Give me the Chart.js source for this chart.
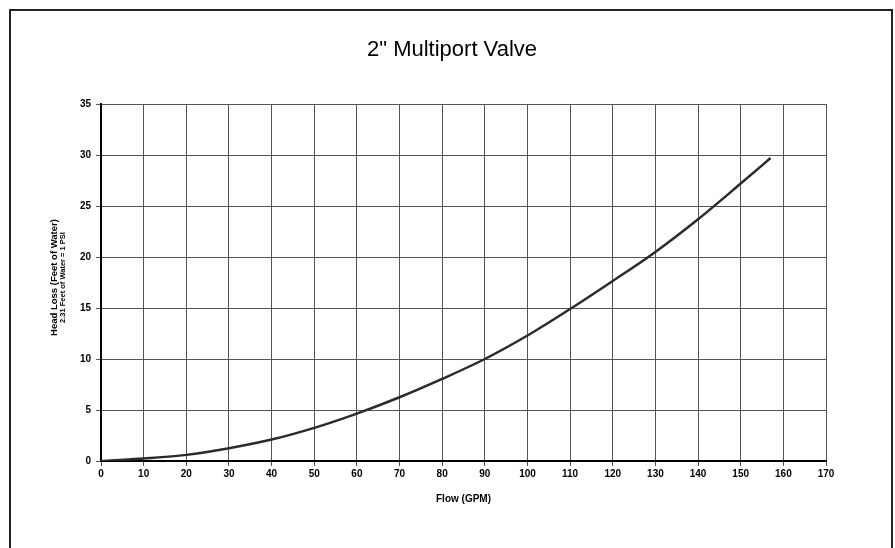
<!DOCTYPE html>
<html>
<head>
<meta charset="utf-8">
<script src="https://cdn.jsdelivr.net/npm/chart.js@4.4.1/dist/chart.umd.min.js"></script>
<style>
  html, body { margin: 0; padding: 0; background: #fff; overflow: hidden; }
  #wrap { width: 895px; height: 548px; position: relative; }
</style>
</head>
<body>
<div id="wrap"><canvas id="chart" width="895" height="548"></canvas></div>
<script>
// values
const flowGpm  = [0, 10, 20, 30, 40, 50, 60, 70, 80, 90, 100, 110, 120, 130, 140, 150, 157];
const headLoss = [0, 0.25, 0.6, 1.25, 2.1, 3.25, 4.65, 6.25, 8.05, 10.0, 12.3, 14.9, 17.65, 20.5, 23.7, 27.2, 29.7];

const xRange = [0, 170, 10];
const yRange = [0, 35, 5];

const titleText = '2" Multiport Valve';
const xTitle = 'Flow (GPM)';
const yTitle = ['Head Loss (Feet of Water)', '2.31 Feet of Water = 1 PSI'];

const FONT = '"Liberation Sans", Arial, sans-serif';

const points = flowGpm.map((f, i) => ({ x: f, y: headLoss[i] }));

// outer frame and the two-size y axis title
const decor = {
    id: 'decor',
    afterDraw(chart) {
        const ctx = chart.ctx;
        const area = chart.chartArea;
        ctx.save();
        ctx.strokeStyle = '#222';
        ctx.lineWidth = 2;
        ctx.strokeRect(10, 10, 882, 600);

        const cy = (area.top + area.bottom) / 2;
        ctx.fillStyle = '#000';
        ctx.textAlign = 'center';
        ctx.textBaseline = 'middle';
        ctx.translate(54, cy - 5);
        ctx.rotate(-Math.PI / 2);
        ctx.font = 'bold 9.5px ' + FONT;
        ctx.fillText(yTitle[0], 0, 0);
        ctx.restore();

        ctx.save();
        ctx.fillStyle = '#000';
        ctx.textAlign = 'center';
        ctx.textBaseline = 'middle';
        ctx.translate(62.5, cy - 5);
        ctx.rotate(-Math.PI / 2);
        ctx.font = 'bold 7.5px ' + FONT;
        ctx.fillText(yTitle[1], 0, 0);
        ctx.restore();
    }
};

new Chart(document.getElementById('chart'), {
    type: 'scatter',
    data: {
        datasets: [{
            data: points,
            showLine: true,
            borderColor: '#2b2b2b',
            borderWidth: 2.5,
            pointRadius: 0,
            cubicInterpolationMode: 'monotone',
            fill: false,
        }],
    },
    options: {
        responsive: false,
        animation: false,
        layout: { padding: { left: 9, right: 0, top: 0, bottom: 0 } },
        plugins: {
            legend: { display: false },
            tooltip: { enabled: false },
            title: {
                display: true,
                text: titleText,
                color: '#000',
                font: { family: FONT, size: 22, weight: 'normal', lineHeight: 1.2 },
                padding: { top: 37, bottom: 40.6 },
            },
        },
        scales: {
            x: {
                type: 'linear',
                min: xRange[0],
                max: xRange[1],
                afterFit: (scale) => { scale.height = 87; },
                ticks: {
                    stepSize: xRange[2],
                    color: '#000',
                    padding: 2,
                    font: { family: FONT, size: 10, weight: 'bold' },
                    maxRotation: 0,
                },
                grid: { color: '#555', lineWidth: 1, tickLength: 5 },
                border: { color: '#000', width: 2 },
                title: {
                    display: true,
                    text: xTitle,
                    color: '#000',
                    font: { family: FONT, size: 10, weight: 'bold', lineHeight: 1.2 },
                    padding: { top: 0, bottom: 43 },
                },
            },
            y: {
                type: 'linear',
                min: yRange[0],
                max: yRange[1],
                afterFit: (scale) => { scale.width = 92; },
                ticks: {
                    stepSize: yRange[2],
                    color: '#000',
                    padding: 5,
                    font: { family: FONT, size: 10, weight: 'bold' },
                },
                grid: { color: '#555', lineWidth: 1, tickLength: 5 },
                border: { color: '#000', width: 2 },
            },
            // empty right-hand spacer so the plot ends where the reference does
            spacer: {
                type: 'linear',
                position: 'right',
                min: 0,
                max: 1,
                afterFit: (scale) => { scale.width = 69; },
                ticks: { display: false },
                grid: { display: false, drawTicks: false },
                border: { display: false },
            },
        },
    },
    plugins: [decor],
});
</script>
</body>
</html>
